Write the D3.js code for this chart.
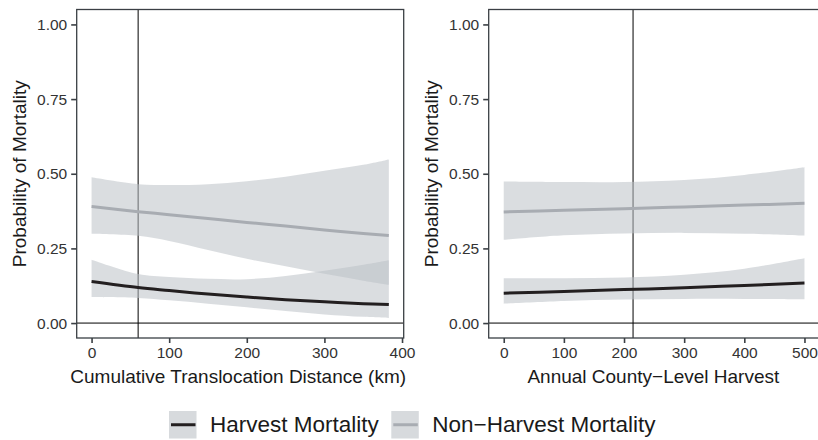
<!DOCTYPE html>
<html>
<head>
<meta charset="utf-8">
<script src="https://cdn.jsdelivr.net/npm/d3@7"></script>
<style>
  body { margin: 0; background: #fff; }
  svg { display: block; font-family: "Liberation Sans", Arial, sans-serif; }
</style>
</head>
<body>
<svg id="chart" width="818" height="440"></svg>
<script>
// valores
var distX      = [0, 60, 100, 150, 200, 250, 300, 350, 383];
var distHarv   = [0.139, 0.119, 0.109, 0.097, 0.087, 0.078, 0.071, 0.065, 0.062];
var distHarvLo = [0.087, 0.084, 0.076, 0.065, 0.053, 0.040, 0.029, 0.021, 0.017];
var distHarvHi = [0.212, 0.164, 0.154, 0.148, 0.147, 0.158, 0.175, 0.195, 0.210];
var distNon    = [0.390, 0.373, 0.363, 0.350, 0.337, 0.325, 0.312, 0.300, 0.293];
var distNonLo  = [0.299, 0.292, 0.275, 0.245, 0.215, 0.190, 0.165, 0.142, 0.128];
var distNonHi  = [0.488, 0.465, 0.462, 0.465, 0.475, 0.490, 0.510, 0.530, 0.548];

var harvX      = [0, 100, 200, 300, 400, 500];
var harvHarv   = [0.100, 0.106, 0.112, 0.118, 0.126, 0.134];
var harvHarvLo = [0.065, 0.074, 0.079, 0.081, 0.081, 0.080];
var harvHarvHi = [0.150, 0.150, 0.153, 0.162, 0.182, 0.217];
var harvNon    = [0.372, 0.378, 0.383, 0.389, 0.395, 0.401];
var harvNonLo  = [0.279, 0.294, 0.300, 0.302, 0.299, 0.293];
var harvNonHi  = [0.474, 0.472, 0.472, 0.479, 0.496, 0.522];

var yTicks = [0, 0.25, 0.5, 0.75, 1];
var distTicks = [0, 100, 200, 300, 400];
var harvTicks = [0, 100, 200, 300, 400, 500];
var distRef = 60;
var harvRef = 215;

var seriesNames = ["Harvest Mortality", "Non\u2212Harvest Mortality"];
var lineColors = ["#231f20", "#a8acb2"];
var bandColor = "#bcc1c7";

var svg = d3.select("#chart");

var y = d3.scaleLinear().domain([-0.05, 1.05]).range([338, 9.5]);

var panels = [
    { x0: 76.7, x1: 403.7, domain: [-19.15, 402.15], xs: distX, ticks: distTicks, ref: distRef,
      harv: [distHarv, distHarvLo, distHarvHi], non: [distNon, distNonLo, distNonHi],
      title: "Cumulative Translocation Distance (km)", ylabX: 26 },
    { x0: 488.7, x1: 819.5, domain: [-25, 525], xs: harvX, ticks: harvTicks, ref: harvRef,
      harv: [harvHarv, harvHarvLo, harvHarvHi], non: [harvNon, harvNonLo, harvNonHi],
      title: "Annual County\u2212Level Harvest", ylabX: 438 }
];

panels.forEach(function(p, pi) {
    var x = d3.scaleLinear().domain(p.domain).range([p.x0, p.x1]);
    var g = svg.append("g");

    g.append("clipPath").attr("id", "clip" + pi)
        .append("rect")
        .attr("x", p.x0).attr("y", y.range()[1])
        .attr("width", p.x1 - p.x0).attr("height", y.range()[0] - y.range()[1]);

    var plot = g.append("g").attr("clip-path", "url(#clip" + pi + ")");

    // linea horizontal en 0 y linea vertical de referencia
    plot.append("line")
        .attr("x1", p.x0).attr("x2", p.x1)
        .attr("y1", y(0)).attr("y2", y(0))
        .attr("stroke", "#000").attr("stroke-width", 1);
    plot.append("line")
        .attr("x1", x(p.ref)).attr("x2", x(p.ref))
        .attr("y1", y.range()[1]).attr("y2", y.range()[0])
        .attr("stroke", "#000").attr("stroke-width", 1);

    var area = d3.area()
        .x(function(d) { return x(d.x); })
        .y0(function(d) { return y(d.lo); })
        .y1(function(d) { return y(d.hi); })
        .curve(d3.curveCatmullRom.alpha(0.5));
    var line = d3.line()
        .x(function(d) { return x(d.x); })
        .y(function(d) { return y(d.v); })
        .curve(d3.curveCatmullRom.alpha(0.5));

    var groups = [p.harv, p.non];
    groups.forEach(function(s) {
        var pts = p.xs.map(function(xv, i) { return { x: xv, v: s[0][i], lo: s[1][i], hi: s[2][i] }; });
        plot.append("path").datum(pts)
            .attr("d", area)
            .attr("fill", bandColor)
            .attr("fill-opacity", 0.55);
    });
    groups.forEach(function(s, si) {
        var pts = p.xs.map(function(xv, i) { return { x: xv, v: s[0][i] }; });
        plot.append("path").datum(pts)
            .attr("d", line)
            .attr("fill", "none")
            .attr("stroke", lineColors[si])
            .attr("stroke-width", 3);
    });

    // borde del panel
    g.append("rect")
        .attr("x", p.x0).attr("y", y.range()[1])
        .attr("width", p.x1 - p.x0).attr("height", y.range()[0] - y.range()[1])
        .attr("fill", "none").attr("stroke", "#3a3f44").attr("stroke-width", 1.3);

    // ejes
    var yAxis = g.append("g")
        .attr("transform", "translate(" + p.x0 + ",0)")
        .call(d3.axisLeft(y).tickValues(yTicks).tickFormat(d3.format(".2f")).tickSize(5.5).tickPadding(4));
    var xAxis = g.append("g")
        .attr("transform", "translate(0," + y.range()[0] + ")")
        .call(d3.axisBottom(x).tickValues(p.ticks).tickFormat(d3.format("d")).tickSize(5).tickPadding(4));

    [yAxis, xAxis].forEach(function(a) {
        a.select(".domain").remove();
        a.selectAll(".tick line").attr("stroke", "#3a3f44").attr("stroke-width", 1.6);
        a.selectAll(".tick text").attr("fill", "#333").style("font-size", "15.5px")
            .style("font-family", "'Liberation Sans', Arial, sans-serif");
    });

    g.append("text")
        .attr("x", (p.x0 + Math.min(p.x1, 818)) / 2 + (pi == 0 ? -2 : 0))
        .attr("y", 383)
        .attr("text-anchor", "middle")
        .attr("fill", "#1a1a1a")
        .style("font-size", "19px")
        .text(p.title);

    g.append("text")
        .attr("transform", "translate(" + p.ylabX + "," + ((y.range()[0] + y.range()[1]) / 2) + ") rotate(-90)")
        .attr("text-anchor", "middle")
        .attr("fill", "#1a1a1a")
        .style("font-size", "19px")
        .text("Probability of Mortality");
});

// leyenda
var legend = svg.append("g");
var keySize = 27.5;
var lx = 169;
seriesNames.forEach(function(name, i) {
    var item = legend.append("g").attr("transform", "translate(" + lx + ",411)");
    item.append("rect")
        .attr("width", keySize).attr("height", keySize)
        .attr("fill", bandColor).attr("fill-opacity", 0.6);
    item.append("line")
        .attr("x1", 2).attr("x2", keySize - 1)
        .attr("y1", keySize / 2).attr("y2", keySize / 2)
        .attr("stroke", lineColors[i]).attr("stroke-width", 3);
    var t = item.append("text")
        .attr("x", 41).attr("y", keySize / 2 + 7.5)
        .attr("fill", "#1a1a1a")
        .style("font-size", "22.5px")
        .text(name);
    lx += 41 + t.node().getComputedTextLength() + 12.5;
});
</script>
</body>
</html>
